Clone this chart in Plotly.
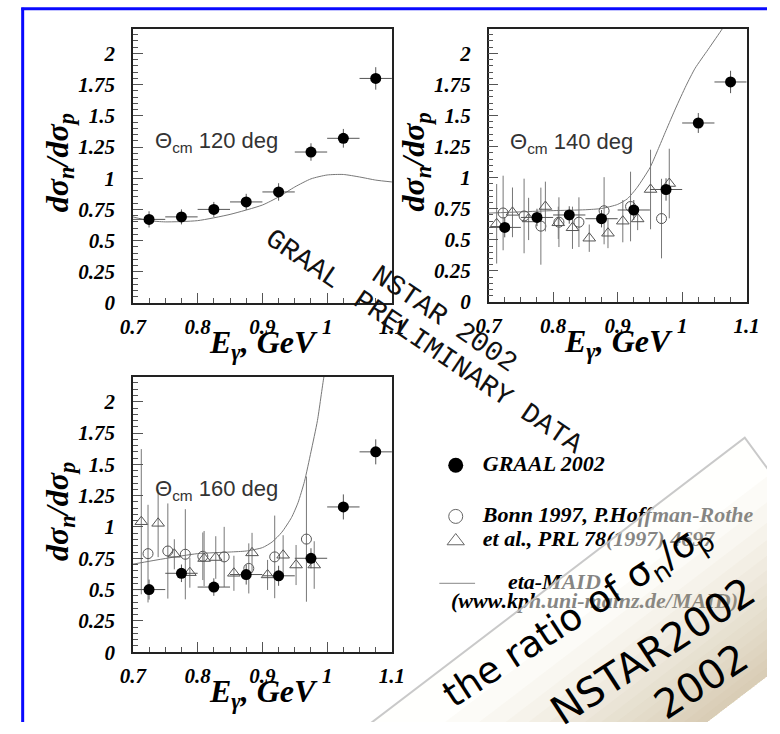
import plotly.graph_objects as go

W, H = 780, 734

# ---------------- data ----------------
e_graal = [0.725, 0.775, 0.825, 0.875, 0.925, 0.975, 1.025, 1.075]
e_bin_half = [0.025, 0.025, 0.025, 0.025, 0.025, 0.025, 0.025, 0.025]

# Theta_cm = 120 deg
graal_120 = [0.67, 0.69, 0.75, 0.81, 0.89, 1.21, 1.32, 1.80]
graal_120_err = [0.065, 0.06, 0.06, 0.065, 0.07, 0.07, 0.075, 0.09]
maid_120_e = [0.70, 0.725, 0.75, 0.80, 0.85, 0.90, 0.925, 0.95, 0.975, 1.0, 1.025, 1.05, 1.075, 1.10]
maid_120 = [0.69, 0.66, 0.65, 0.66, 0.71, 0.785, 0.85, 0.93, 0.995, 1.026, 1.03, 1.01, 0.985, 0.97]

# Theta_cm = 140 deg
graal_140 = [0.60, 0.68, 0.70, 0.67, 0.74, 0.905, 1.44, 1.77]
graal_140_err = [0.08, 0.07, 0.07, 0.07, 0.08, 0.09, 0.08, 0.09]
bonn_c_140_e = [0.7225, 0.755, 0.781, 0.809, 0.840, 0.879, 0.920, 0.968]
bonn_c_140 = [0.716, 0.692, 0.61, 0.642, 0.642, 0.734, 0.768, 0.671]
bonn_c_140_err = [0.30, 0.30, 0.31, 0.20, 0.20, 0.27, 0.28, 0.32]
bonn_t_140_e = [0.7125, 0.737, 0.762, 0.788, 0.808, 0.830, 0.856, 0.885, 0.908, 0.931, 0.951, 0.980]
bonn_t_140 = [0.629, 0.721, 0.668, 0.768, 0.637, 0.597, 0.513, 0.553, 0.65, 0.668, 0.905, 0.953]
bonn_t_140_err = [0.32, 0.20, 0.17, 0.20, 0.13, 0.17, 0.11, 0.12, 0.17, 0.09, 0.32, 0.28]
maid_140_e = [0.70, 0.75, 0.80, 0.85, 0.875, 0.90, 0.915, 0.93, 0.95, 0.962, 0.975, 0.99, 1.006, 1.02, 1.04, 1.0625, 1.07]
maid_140 = [0.715, 0.725, 0.735, 0.742, 0.752, 0.785, 0.83, 0.92, 1.08, 1.22, 1.38, 1.56, 1.74, 1.88, 2.03, 2.2, 2.26]

# Theta_cm = 160 deg
graal_160 = [0.50, 0.63, 0.52, 0.62, 0.61, 0.75, 1.16, 1.60]
graal_160_err = [0.08, 0.07, 0.07, 0.08, 0.08, 0.08, 0.10, 0.10]
bonn_c_160_e = [0.7234, 0.754, 0.781, 0.808, 0.841, 0.879, 0.919, 0.968]
bonn_c_160 = [0.787, 0.808, 0.782, 0.766, 0.761, 0.669, 0.761, 0.903]
bonn_c_160_err = [0.39, 0.38, 0.36, 0.19, 0.24, 0.20, 0.33, 0.50]
bonn_t_160_e = [0.713, 0.739, 0.764, 0.788, 0.810, 0.828, 0.856, 0.884, 0.908, 0.932, 0.952, 0.980]
bonn_t_160 = [1.042, 1.029, 0.782, 0.635, 0.748, 0.756, 0.63, 0.793, 0.617, 0.774, 0.696, 0.696]
bonn_t_160_err = [0.58, 0.27, 0.12, 0.12, 0.22, 0.17, 0.14, 0.16, 0.12, 0.16, 0.16, 0.19]
maid_160_e = [0.70, 0.75, 0.80, 0.85, 0.875, 0.90, 0.915, 0.93, 0.945, 0.955, 0.965, 0.975, 0.985, 0.995, 1.0]
maid_160 = [0.703, 0.748, 0.787, 0.80, 0.808, 0.835, 0.88, 0.958, 1.076, 1.194, 1.365, 1.60, 1.85, 2.2, 2.32]

panel_labels = ["120", "140", "160"]
y_tickvals = [0, 0.25, 0.5, 0.75, 1, 1.25, 1.5, 1.75, 2]
y_ticktext = ["0", "0.25", "0.5", "0.75", "1", "1.25", "1.5", "1.75", "2"]
x_tickvals = [0.7, 0.8, 0.9, 1.0, 1.1]
x_ticktext = ["0.7", "0.8", "0.9", "1", "1.1"]

legend_labels = ["GRAAL 2002", "Bonn 1997, P.Hoffman-Rothe", "et al., PRL 78(1997) 4697",
                 "eta-MAID", "(www.kph.uni-mainz.de/MAID)"]
watermark_lines = ["GRAAL", "NSTAR 2002", "PRELIMINARY DATA"]
note_lines = ["the ratio of σ<sub>n</sub>/σ<sub>p</sub>", "NSTAR2002", "2002"]

# ---------------- figure ----------------
fig = go.Figure()

# panel frames in pixels: (left, right, top, bottom)
frames = {
    "1": (124, 392, 29, 308),
    "2": (492, 759, 29, 307),
    "3": (124, 392, 383, 663),
}

tick_font = dict(family="Liberation Serif", size=21, color="black", weight="bold", style="italic")


def xdom(l, r):
    return [l / W, r / W]


def ydom(t, b):
    return [1 - b / H, 1 - t / H]


def add_panel(key, maid_e, maid, graal, graal_err, bc_e=None, bc=None, bc_err=None,
              bt_e=None, bt=None, bt_err=None):
    xa = "x" if key == "1" else "x" + key
    ya = "y" if key == "1" else "y" + key
    fig.add_trace(go.Scatter(x=maid_e, y=maid, mode="lines", xaxis=xa, yaxis=ya,
                             line=dict(color="#777777", width=1, shape="spline", smoothing=0.6),
                             showlegend=False, hoverinfo="skip"))
    if bc is not None:
        fig.add_trace(go.Scatter(x=bc_e, y=bc, mode="markers", xaxis=xa, yaxis=ya,
                                 marker=dict(symbol="circle-open", size=10, color="#555555",
                                             line=dict(width=1)),
                                 error_y=dict(type="data", array=bc_err, width=0,
                                              color="#777777", thickness=1),
                                 showlegend=False))
        fig.add_trace(go.Scatter(x=bt_e, y=bt, mode="markers", xaxis=xa, yaxis=ya,
                                 marker=dict(symbol="triangle-up-open", size=11, color="#555555",
                                             line=dict(width=1)),
                                 error_y=dict(type="data", array=bt_err, width=0,
                                              color="#777777", thickness=1),
                                 showlegend=False))
    fig.add_trace(go.Scatter(x=e_graal, y=graal, mode="markers", xaxis=xa, yaxis=ya,
                             marker=dict(symbol="circle", size=11, color="black"),
                             error_x=dict(type="data", array=e_bin_half, width=0,
                                          color="#555555", thickness=1),
                             error_y=dict(type="data", array=graal_err, width=0,
                                          color="#555555", thickness=1),
                             showlegend=False))


add_panel("1", maid_120_e, maid_120, graal_120, graal_120_err)
add_panel("2", maid_140_e, maid_140, graal_140, graal_140_err,
          bonn_c_140_e, bonn_c_140, bonn_c_140_err, bonn_t_140_e, bonn_t_140, bonn_t_140_err)
add_panel("3", maid_160_e, maid_160, graal_160, graal_160_err,
          bonn_c_160_e, bonn_c_160, bonn_c_160_err, bonn_t_160_e, bonn_t_160, bonn_t_160_err)

# legend drawn on a full-page pixel overlay (x4/y4)
fig.add_trace(go.Scatter(x=[458], y=[473], mode="markers", xaxis="x4", yaxis="y4",
                         marker=dict(symbol="circle", size=15, color="black"),
                         showlegend=False, hoverinfo="skip"))
fig.add_trace(go.Scatter(x=[458], y=[525], mode="markers", xaxis="x4", yaxis="y4",
                         marker=dict(symbol="circle-open", size=14, color="#666666", line=dict(width=1)),
                         showlegend=False, hoverinfo="skip"))
fig.add_trace(go.Scatter(x=[458], y=[550], mode="markers", xaxis="x4", yaxis="y4",
                         marker=dict(symbol="triangle-up-open", size=15, color="#666666", line=dict(width=1)),
                         showlegend=False, hoverinfo="skip"))
fig.add_trace(go.Scatter(x=[441, 478], y=[593, 593], mode="lines", xaxis="x4", yaxis="y4",
                         line=dict(color="#888888", width=1),
                         showlegend=False, hoverinfo="skip"))
fig.add_trace(go.Scatter(x=[486, 486, 486, 560, 453], y=[473, 525, 549, 593, 613],
                         mode="text", xaxis="x4", yaxis="y4", text=legend_labels,
                         textposition=["middle right", "middle right", "middle right",
                                       "middle center", "middle right"],
                         textfont=dict(family="Liberation Serif", size=22, color="black",
                                       weight="bold", style="italic"),
                         showlegend=False, hoverinfo="skip"))

axis_common_x = dict(range=[0.7, 1.1], tickvals=x_tickvals, ticktext=x_ticktext,
                     ticks="inside", ticklen=10, tickwidth=1, tickcolor="#555555",
                     minor=dict(ticks="inside", ticklen=5, dtick=0.025, tick0=0.7,
                                tickcolor="#555555", tickwidth=1),
                     showline=True, linecolor="#222222", linewidth=1.5, mirror=True,
                     showgrid=False, zeroline=False, tickfont=tick_font,
                     ticklabelstandoff=4, fixedrange=True)
axis_common_y = dict(range=[0, 2.2], tickvals=y_tickvals, ticktext=y_ticktext,
                     ticks="inside", ticklen=10, tickwidth=1, tickcolor="#555555",
                     minor=dict(ticks="inside", ticklen=5, dtick=0.05, tick0=0,
                                tickcolor="#555555", tickwidth=1),
                     showline=True, linecolor="#222222", linewidth=1.5, mirror=True,
                     showgrid=False, zeroline=False, tickfont=tick_font,
                     ticklabelstandoff=12, fixedrange=True)

layout = dict(width=W, height=H, margin=dict(l=0, r=0, t=0, b=0), autosize=False,
              paper_bgcolor="white", plot_bgcolor="rgba(0,0,0,0)", showlegend=False)
for key, (l, r, t, b) in frames.items():
    xn = "xaxis" if key == "1" else "xaxis" + key
    yn = "yaxis" if key == "1" else "yaxis" + key
    layout[xn] = dict(axis_common_x, domain=xdom(l, r), anchor="y" if key == "1" else "y" + key)
    layout[yn] = dict(axis_common_y, domain=ydom(t, b), anchor="x" if key == "1" else "x" + key)
layout["xaxis4"] = dict(domain=[0, 1], range=[0, W], visible=False, anchor="y4", fixedrange=True)
layout["yaxis4"] = dict(domain=[0, 1], range=[H, 0], visible=False, anchor="x4", fixedrange=True)
fig.update_layout(**layout)

annotations = []
title_font = dict(family="Liberation Serif", size=32, color="black", weight="bold", style="italic")
for key, (l, r, t, b) in frames.items():
    cx = (l + r) / 2
    cy = (t + b) / 2
    annotations.append(dict(x=l - 76, y=cy - 3, xref="x4", yref="y4", showarrow=False,
                            text="dσ<sub>n</sub>/dσ<sub>p</sub>", textangle=-90, font=title_font,
                            xanchor="center", yanchor="middle"))
    annotations.append(dict(x=cx + 1, y=b + 42, xref="x4", yref="y4", showarrow=False,
                            text="E<sub>γ</sub>, GeV", font=title_font,
                            xanchor="center", yanchor="middle"))
theta_pos = [(145, 144), (512, 145), (145, 498)]
for (px, py), lab in zip(theta_pos, panel_labels):
    annotations.append(dict(x=px, y=py, xref="x4", yref="y4", showarrow=False,
                            text="Θ<sub>cm</sub> " + lab + " deg",
                            font=dict(family="Liberation Sans", size=22, color="#333333"),
                            xanchor="left", yanchor="middle"))

# diagonal watermark
wm_pos = [(300, 264), (446, 325), (470, 379)]
for (px, py), txt in zip(wm_pos, watermark_lines):
    annotations.append(dict(x=px, y=py, xref="x4", yref="y4", showarrow=False, text=txt,
                            textangle=34,
                            font=dict(family="Liberation Mono", size=28, color="#111111"),
                            xanchor="center", yanchor="middle"))

# handwriting on the sticky note
note_pos = [(584, 626, 37), (662, 662, 40), (712, 692, 40)]
for (px, py, fs), txt in zip(note_pos, note_lines):
    annotations.append(dict(x=px, y=py, xref="x4", yref="y4", showarrow=False, text=txt,
                            textangle=-33,
                            font=dict(family="DejaVu Sans", size=fs, color="black"),
                            xanchor="center", yanchor="middle"))
fig.update_layout(annotations=annotations)

# ---------------- decorations: page border and sticky note ----------------
shapes = []
shapes.append(dict(type="line", xref="x4", yref="y4", x0=10, x1=10, y0=8, y1=H,
                   line=dict(color="#0a0aff", width=3)))
shapes.append(dict(type="line", xref="x4", yref="y4", x0=8.5, x1=W, y0=9, y1=9,
                   line=dict(color="#0a0aff", width=3)))

Tx, Ty = 757.0, 445.0          # top corner of the note
ux, uy = -0.8, 0.6             # along the long edge
vx, vy = 0.6, 0.8              # across the note
NWID, NLEN = 208.0, 720.0


def note_path(d0, d1):
    pts = [(Tx + d0 * vx, Ty + d0 * vy),
           (Tx + d0 * vx + NLEN * ux, Ty + d0 * vy + NLEN * uy),
           (Tx + d1 * vx + NLEN * ux, Ty + d1 * vy + NLEN * uy),
           (Tx + d1 * vx, Ty + d1 * vy)]
    return "M " + " L ".join(f"{x:.1f},{y:.1f}" for x, y in pts) + " Z"


shapes.append(dict(type="path", xref="x4", yref="y4", layer="above", path=note_path(0, NWID),
                   fillcolor="rgba(255,255,252,0.52)", line=dict(width=0)))
nlay = 15
for k in range(1, nlay + 1):
    d0 = NWID * (k / (nlay + 1)) ** 0.55
    shapes.append(dict(type="path", xref="x4", yref="y4", layer="above",
                       path=note_path(d0, NWID),
                       fillcolor="rgba(185,165,115,0.045)", line=dict(width=0)))
shapes.append(dict(type="path", xref="x4", yref="y4", layer="above",
                   path=f"M {Tx + NLEN * ux:.1f},{Ty + NLEN * uy:.1f} L {Tx},{Ty} "
                        f"L {Tx + NWID * vx:.1f},{Ty + NWID * vy:.1f}",
                   line=dict(color="rgba(195,195,195,0.9)", width=2)))
fig.update_layout(shapes=shapes)

fig.write_html("out.html")
